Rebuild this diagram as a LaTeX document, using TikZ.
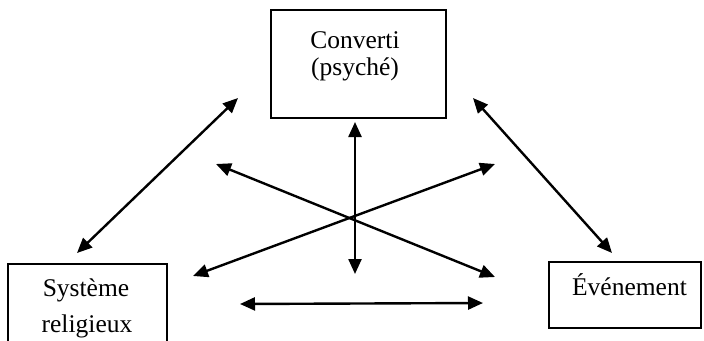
\documentclass[tikz,border=0pt]{standalone}
\usepackage{fontspec}
\setmainfont{Liberation Serif}
\usetikzlibrary{arrows.meta}
\begin{document}
\begin{tikzpicture}[x=1pt,y=-1pt,
  box/.style={draw,line width=1.5pt,inner sep=0pt,anchor=north west},
  lbl/.style={inner sep=0pt,anchor=base,font=\fontsize{25.5}{28}\selectfont},
  link/.style={line width=2.4pt,{Triangle[length=15pt,width=13pt]}-{Triangle[length=15pt,width=13pt]}}]
\useasboundingbox (0,0) rectangle (704,340);
% boxes
\node[box,minimum width=175pt,minimum height=108pt] (conv) at (270,9) {};
\node[box,minimum width=159pt,minimum height=90pt] (sys) at (7,263) {};
\node[box,minimum width=152pt,minimum height=66pt] (evt) at (548,261) {};
% labels
\node[lbl] (t1) at (355,48) {Converti};
\node[lbl] (t2) at (355,75) {(psyché)};
\node[lbl] (t3) at (86,296) {Système};
\node[lbl] (t4) at (87,332) {religieux};
\node[lbl] (t5) at (629.5,295) {Événement};
% arrow ends
\coordinate (a1) at (238,98);   \coordinate (a2) at (77,253);
\coordinate (b1) at (473,98);   \coordinate (b2) at (612,253);
\coordinate (c1) at (355,122);  \coordinate (c2) at (355,274);
\coordinate (d1) at (216,164);  \coordinate (d2) at (495,277);
\coordinate (e1) at (495,164);  \coordinate (e2) at (193,276);
\coordinate (f1) at (240,304);  \coordinate (f2) at (483,303);
\draw[link] (a1) -- (a2);
\draw[link] (b1) -- (b2);
\draw[link] (c1) -- (c2);
\draw[link] (d1) -- (d2);
\draw[link] (e1) -- (e2);
\draw[link] (f1) -- (f2);
\end{tikzpicture}
\end{document}
